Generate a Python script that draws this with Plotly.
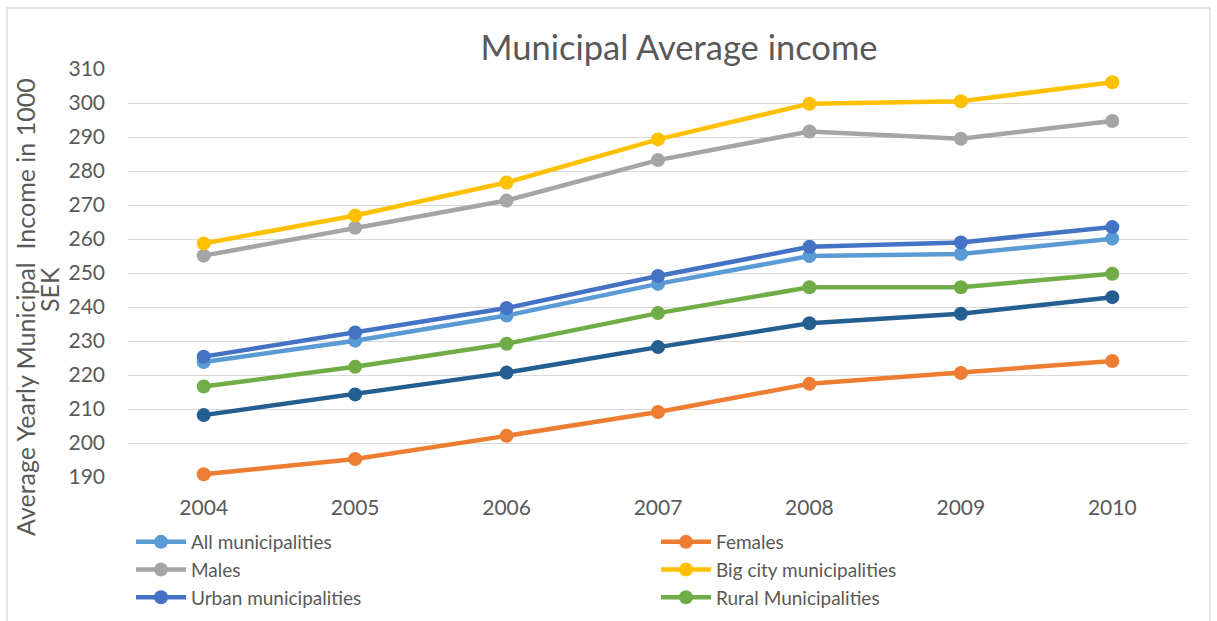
import plotly.graph_objects as go

years = ["2004", "2005", "2006", "2007", "2008", "2009", "2010"]

all_muni = [223.8, 230.1, 237.5, 246.8, 255.0, 255.6, 260.1]
females = [190.8, 195.3, 202.1, 209.1, 217.4, 220.6, 224.1]
males = [255.1, 263.3, 271.3, 283.2, 291.6, 289.5, 294.7]
big_city = [258.7, 266.9, 276.6, 289.3, 299.8, 300.5, 306.1]
urban = [225.4, 232.5, 239.7, 249.1, 257.7, 259.0, 263.5]
rural = [216.6, 222.4, 229.2, 238.2, 245.8, 245.8, 249.8]
unlabeled = [208.2, 214.3, 220.7, 228.2, 235.2, 238.0, 242.9]

series = [
    ("All municipalities", all_muni, "#5B9BD5", True),
    ("Females", females, "#ED7D31", True),
    ("Males", males, "#A5A5A5", True),
    ("Big city municipalities", big_city, "#FFC000", True),
    ("Urban municipalities", urban, "#4472C4", True),
    ("Rural Municipalities", rural, "#70AD47", True),
    ("Series 7", unlabeled, "#255E91", False),
]

FONT = "Lato"
TXT = "#595959"

fig = go.Figure()
for name, vals, color, show in series:
    fig.add_trace(go.Scatter(
        x=years, y=vals, name=name, mode="lines+markers",
        line=dict(color=color, width=4.5),
        marker=dict(color=color, size=14),
        showlegend=show, cliponaxis=False,
    ))

W, H = 1217, 621
L, R, T, B = 128, 29, 69, 144
pw, ph = W - L - R, H - T - B

def px_x(x):
    return (x - L) / pw

def px_y(y):
    return (H - B - y) / ph

fig.update_layout(
    width=W, height=H,
    margin=dict(l=L, r=R, t=T, b=B, autoexpand=False),
    paper_bgcolor="white", plot_bgcolor="white",
    font=dict(family=FONT, color=TXT),
    title=dict(text="Municipal Average income", x=679 / W,
               xanchor="center", y=1 - 48 / H, yanchor="middle",
               font=dict(size=34.5, color=TXT, family=FONT)),
    xaxis=dict(type="category", range=[-0.5, 6.5], showgrid=False, zeroline=False,
               showline=False, ticks="", tickfont=dict(size=21, color=TXT),
               ticklabelstandoff=16),
    yaxis=dict(range=[190, 310], dtick=10, tick0=190, showgrid=True,
               gridcolor="#D9D9D9", gridwidth=1.3, zeroline=False, showline=False,
               ticks="", tickfont=dict(size=21, color=TXT), ticklabelstandoff=22),
    legend=dict(orientation="h", x=px_x(131), xanchor="left", y=px_y(523), yanchor="top",
                entrywidth=460, entrywidthmode="pixels", itemwidth=50,
                font=dict(size=19, color=TXT, family=FONT), tracegroupgap=0,
                bgcolor="rgba(0,0,0,0)"),
    showlegend=True,
)

fig.add_annotation(
    text="Average Yearly Municipal  Income in 1000",
    xref="paper", yref="paper", x=px_x(25), y=px_y(307),
    xanchor="center", yanchor="middle", textangle=-90, showarrow=False,
    font=dict(size=25, color=TXT, family=FONT),
)
fig.add_annotation(
    text="SEK",
    xref="paper", yref="paper", x=px_x(49), y=px_y(290),
    xanchor="center", yanchor="middle", textangle=-90, showarrow=False,
    font=dict(size=25, color=TXT, family=FONT),
)

fig.add_shape(type="rect", xref="paper", yref="paper",
              x0=px_x(7), x1=px_x(1210), y0=px_y(630), y1=px_y(8),
              line=dict(color="#D9D9D9", width=1.3), fillcolor="rgba(0,0,0,0)", layer="below")

fig.write_html("out.html")
